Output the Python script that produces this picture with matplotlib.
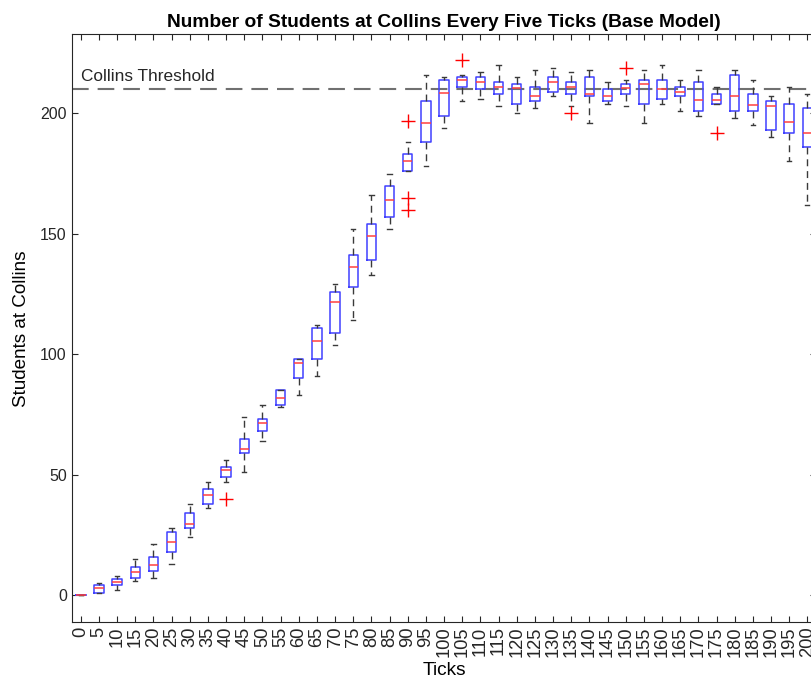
import matplotlib
matplotlib.use("Agg")
import matplotlib.pyplot as plt

plt.rcParams['font.family'] = ['Liberation Sans', 'DejaVu Sans']

# ---- data ----
ticks = list(range(0, 201, 5))
whislo = [0, 1, 2, 6, 7, 13, 24, 36, 47, 51, 64, 78, 83, 91, 104, 114, 133, 152, 176, 178,
          194, 205, 206, 203, 200, 202, 207, 203, 196, 204, 203, 196, 204, 201, 199, 204,
          198, 195, 190, 180, 162]
q1 = [0, 1, 4, 7, 10, 18, 28, 38, 49, 59, 68, 79, 90, 98, 109, 128, 139, 157, 176, 188,
      199, 211, 210, 208, 204, 205, 209, 208, 207, 205, 208, 204, 206, 207, 201, 204,
      201, 201, 193, 192, 186]
med = [0, 3, 5.4, 9.4, 12.6, 22, 29.5, 41.5, 52, 60.5, 71.5, 82, 96.5, 105.5, 121.5, 136,
       149, 164, 180, 196, 208.5, 214, 213, 211, 210.5, 207, 213, 211, 208, 207, 210.5,
       212, 210, 209, 205.5, 205.5, 207, 203.5, 203, 196.5, 192]
q3 = [0, 4, 6.8, 11.8, 15.9, 26, 34, 44, 53, 65, 73, 85, 98, 111, 126, 141, 154, 170, 183,
      205, 214, 215, 215, 213, 212, 211, 215, 213, 215, 210, 212, 214, 214, 211, 213, 208,
      216, 208, 205, 204, 202]
whishi = [0, 5, 7.9, 15, 21, 28, 38, 47, 56, 74, 79, 85, 98, 112, 129, 152, 166, 175, 188,
          216, 215, 216, 217, 220, 215, 218, 219, 217, 218, 213, 214, 218, 220, 214, 218,
          211, 218, 214, 207, 211, 208]
fliers = [[], [], [], [], [], [], [], [], [40], [], [], [], [], [], [], [], [], [],
          [197, 165, 160], [], [], [222], [], [], [], [], [], [200], [], [], [219], [], [],
          [], [], [192], [], [], [], [], []]
threshold = 210

title = "Number of Students at Collins Every Five Ticks (Base Model)"
xlabel = "Ticks"
ylabel = "Students at Collins"
threshold_label = "Collins Threshold"

# ---- figure ----
fig = plt.figure(figsize=(8.11, 6.78), dpi=100)
ax = fig.add_axes([0.08841, 0.08215, 0.91825, 0.86726])

stats = []
for i, t in enumerate(ticks):
    stats.append(dict(whislo=whislo[i], q1=q1[i], med=med[i], q3=q3[i],
                      whishi=whishi[i], fliers=fliers[i], label=str(t)))

positions = list(range(1, len(ticks) + 1))
ax.bxp(stats, positions=positions, widths=0.52, capwidths=0.24,
       boxprops=dict(color='#4040ff', linewidth=1.1),
       medianprops=dict(color='#ff4040', linewidth=1.1),
       whiskerprops=dict(color='#3a3a3a', linewidth=1.0, linestyle=(0, (5, 3.5))),
       capprops=dict(color='#3a3a3a', linewidth=1.0),
       flierprops=dict(marker='+', markeredgecolor='red', markersize=10,
                       markeredgewidth=1.0, linestyle='none'))

ax.axhline(threshold, color='#707070', linewidth=1.5, linestyle=(0, (8, 4.3)), zorder=0)
ax.text(1.0, threshold + 2.3, threshold_label, fontsize=12.4, color='#262626',
        ha='left', va='bottom')

ax.set_xlim(0.5, len(ticks) + 0.5)
ax.set_ylim(-11.3, 232.8)
ax.set_xticks(positions)
ax.set_xticklabels([str(t) for t in ticks], rotation=90, fontsize=13.2)
ax.set_yticks([0, 50, 100, 150, 200])
ax.tick_params(axis='y', labelsize=11.5)
ax.tick_params(direction='in', length=4.5, width=0.8, colors='#262626',
               top=True, right=True)
ax.tick_params(axis='x', pad=3)
for s in ax.spines.values():
    s.set_color('#262626')
    s.set_linewidth(0.8)

ax.set_title(title, fontsize=13.8, fontweight='bold', pad=5)
ax.set_xlabel(xlabel, fontsize=13.8, labelpad=3.5)
ax.set_ylabel(ylabel, fontsize=13.6, labelpad=7)

fig.savefig("out.png", dpi=100)
